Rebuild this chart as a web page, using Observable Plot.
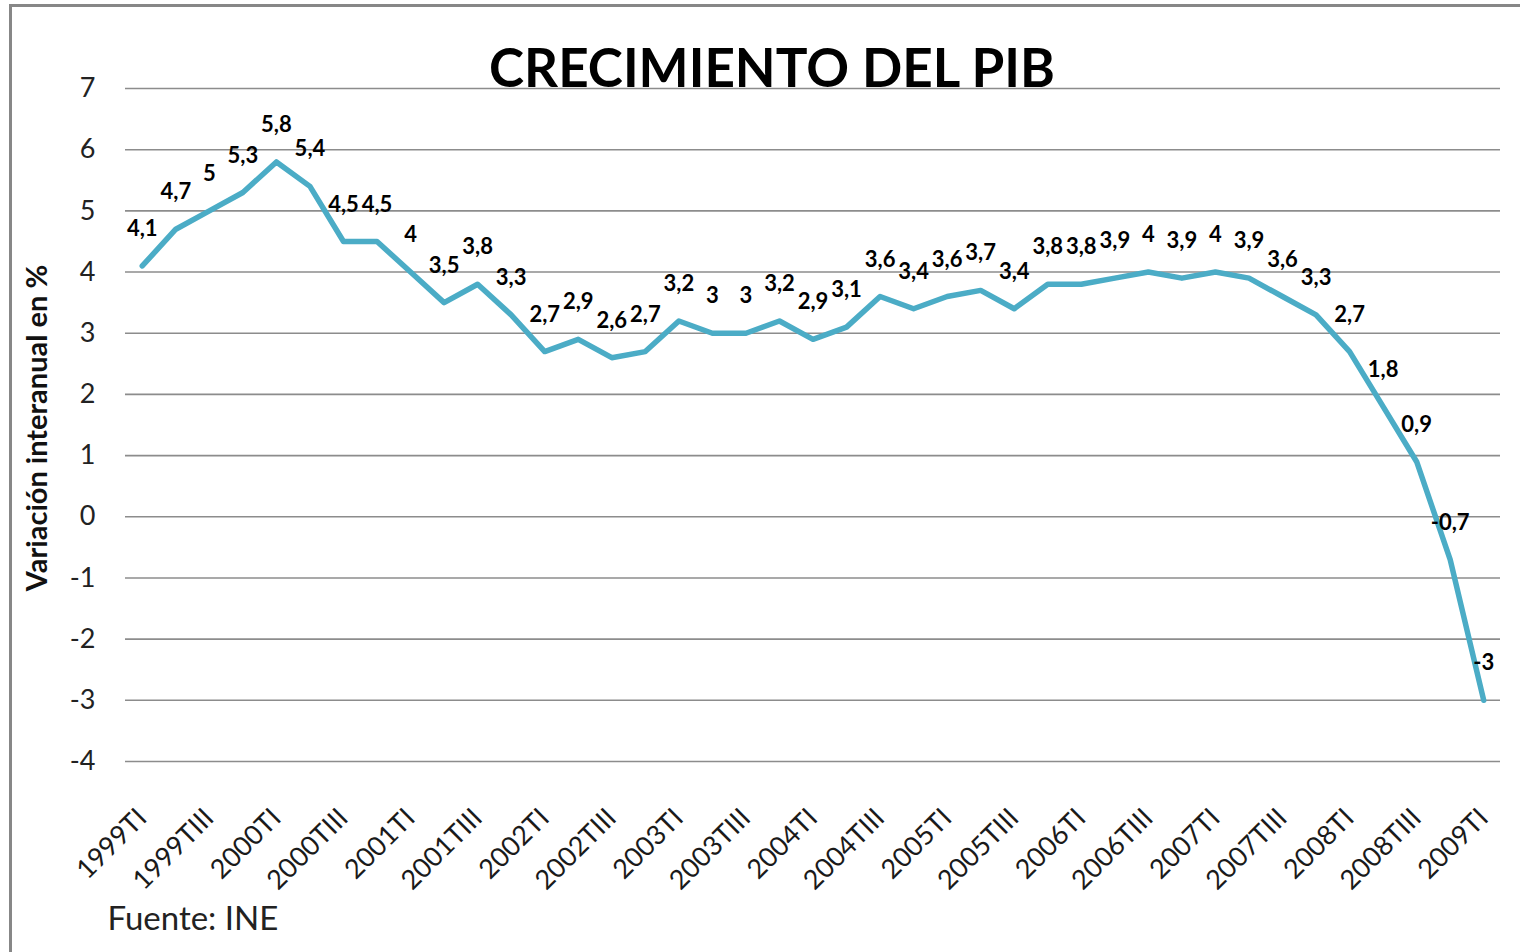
<!DOCTYPE html>
<html>
<head>
<meta charset="utf-8">
<script src="https://cdn.jsdelivr.net/npm/d3@7"></script>
<script src="https://cdn.jsdelivr.net/npm/@observablehq/plot@0.6"></script>
<style>
  html, body { margin: 0; padding: 0; background: #ffffff; }
  #chart { position: relative; width: 1520px; height: 952px; overflow: hidden; }
  #chart svg { display: block; }
</style>
</head>
<body>
<div id="chart"></div>
<script>
// ---- Data ----
const quarters = [
  "1999TI", "1999TII", "1999TIII", "1999TIV",
  "2000TI", "2000TII", "2000TIII", "2000TIV",
  "2001TI", "2001TII", "2001TIII", "2001TIV",
  "2002TI", "2002TII", "2002TIII", "2002TIV",
  "2003TI", "2003TII", "2003TIII", "2003TIV",
  "2004TI", "2004TII", "2004TIII", "2004TIV",
  "2005TI", "2005TII", "2005TIII", "2005TIV",
  "2006TI", "2006TII", "2006TIII", "2006TIV",
  "2007TI", "2007TII", "2007TIII", "2007TIV",
  "2008TI", "2008TII", "2008TIII", "2008TIV",
  "2009TI"
];
const growth = [
  4.1, 4.7, 5.0, 5.3,
  5.8, 5.4, 4.5, 4.5,
  4.0, 3.5, 3.8, 3.3,
  2.7, 2.9, 2.6, 2.7,
  3.2, 3.0, 3.0, 3.2,
  2.9, 3.1, 3.6, 3.4,
  3.6, 3.7, 3.4, 3.8,
  3.8, 3.9, 4.0, 3.9,
  4.0, 3.9, 3.6, 3.3,
  2.7, 1.8, 0.9, -0.7,
  -3.0
];
const xTickLabels = [
  "1999TI", "1999TIII", "2000TI", "2000TIII", "2001TI", "2001TIII",
  "2002TI", "2002TIII", "2003TI", "2003TIII", "2004TI", "2004TIII",
  "2005TI", "2005TIII", "2006TI", "2006TIII", "2007TI", "2007TIII",
  "2008TI", "2008TIII", "2009TI"
];
const yTicks = [-4, -3, -2, -1, 0, 1, 2, 3, 4, 5, 6, 7];
const titleText = "CRECIMIENTO DEL PIB";
const yAxisLabel = "Variación interanual en %";
const sourceText = "Fuente: INE";

// ---- Build table ----
const table = quarters.map((q, i) => ({ q, v: growth[i] }));
const fmt = v => String(v).replace(".", ",");

const FONT = "Lato, 'Open Sans', sans-serif";

const chart = Plot.plot({
  width: 1520,
  height: 952,
  marginLeft: 125,
  marginRight: 20,
  marginTop: 88,
  marginBottom: 191,
  style: { fontFamily: FONT, background: "#ffffff", color: "#222", overflow: "visible" },
  x: { type: "point", domain: quarters, padding: 0.5, round: false, label: null },
  y: { domain: [-4, 7], label: null },
  marks: [
    Plot.ruleY(yTicks, { stroke: "#8c8c8c", strokeWidth: 1.6 }),
    Plot.axisY({
      ticks: yTicks, tickSize: 0, tickPadding: 30, fontSize: 27,
      label: null, tickFormat: d => String(d), fill: "#222"
    }),
    Plot.axisX({
      ticks: xTickLabels, tickSize: 0, tickRotate: -45, tickPadding: 52,
      fontSize: 27, label: null, fill: "#1a1a1a"
    }),
    Plot.line(table, {
      x: "q", y: "v", stroke: "#4bacc6", strokeWidth: 5.5,
      strokeLinejoin: "round", strokeLinecap: "round"
    }),
    Plot.text(table, {
      x: "q", y: "v", text: d => fmt(d.v), dy: -37,
      fontSize: 22, fontWeight: "bold", fill: "#000"
    }),
    Plot.text([yAxisLabel], {
      frameAnchor: "left", textAnchor: "middle", dx: -88, dy: 3, rotate: -90,
      fontSize: 29, fontWeight: "bold", fill: "#111"
    }),
    Plot.text([titleText], {
      frameAnchor: "top", dx: -41, dy: -39, lineAnchor: "top",
      fontSize: 53, fontWeight: "bold", fill: "#000"
    }),
    Plot.text([sourceText], {
      frameAnchor: "bottom-left", textAnchor: "start", lineAnchor: "top",
      dx: -18, dy: 145, fontSize: 33, fill: "#222"
    })
  ]
});

// Outer chart-area border (top and left edges visible in the picture)
d3.select(chart).insert("rect", ":first-child")
  .attr("x", 10.5).attr("y", 5.5)
  .attr("width", 1600).attr("height", 1000)
  .attr("fill", "none").attr("stroke", "#878787").attr("stroke-width", 3);

document.getElementById("chart").appendChild(chart);
</script>
</body>
</html>
